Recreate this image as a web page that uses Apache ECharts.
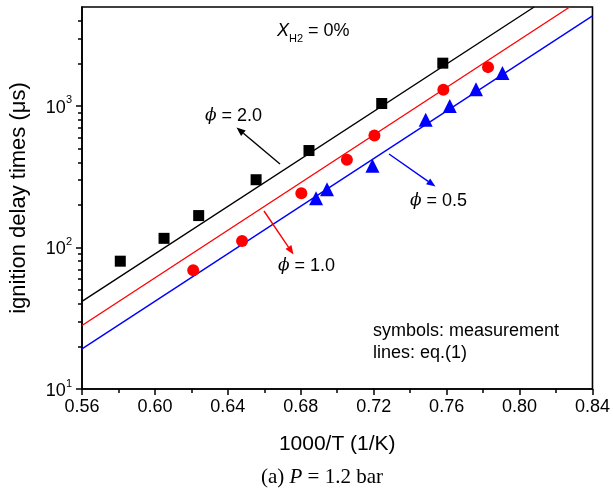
<!DOCTYPE html>
<html>
<head>
<meta charset="utf-8">
<script src="https://cdn.jsdelivr.net/npm/echarts@6/dist/echarts.min.js"></script>
<style>html,body{margin:0;padding:0;background:#fff;}#c{width:613px;height:490px;}</style>
</head>
<body>
<div id="c"></div>
<script>
// ---- data ----
const xTickLabels = ['0.56','0.60','0.64','0.68','0.72','0.76','0.80','0.84'];
const yTickValues = [10, 100, 1000];
const yTickExps = [1, 2, 3];

// measurements
const phi20X = [0.581, 0.605, 0.624, 0.6555, 0.6845, 0.7244, 0.7579];
const phi20Y = [80, 116, 168, 301, 484, 1040, 2005];
const phi10X = [0.621, 0.6478, 0.6803, 0.7053, 0.7204, 0.7582, 0.7827];
const phi10Y = [69, 111, 242, 416, 617, 1300, 1880];
const phi05X = [0.6884, 0.6944, 0.7193, 0.7485, 0.7617, 0.7761, 0.7906];
const phi05Y = [223, 258, 378, 798, 1000, 1314, 1707];

// eq.(1) lines (end points)
const fit20X = [0.56, 0.808];
const fit20Y = [41.6, 5000];
const fit10X = [0.56, 0.8275];
const fit10Y = [28.1, 5000];
const fit05X = [0.56, 0.84];
const fit05Y = [19.2, 4330];

function zip(xs, ys) { return xs.map((x, i) => [x, ys[i]]); }

const chart = echarts.init(document.getElementById('c'), null, {renderer: 'canvas'});

function arrow(x1, y1, x2, y2, color) {
  const dx = x2 - x1, dy = y2 - y1;
  const L = Math.sqrt(dx * dx + dy * dy);
  const ux = dx / L, uy = dy / L;
  const hl = 9, hw = 3.6;
  const bx = x2 - ux * hl, by = y2 - uy * hl;
  return [
    {type: 'line', shape: {x1: x1, y1: y1, x2: bx, y2: by}, style: {stroke: color, lineWidth: 1.4}, z: 100},
    {type: 'polygon', shape: {points: [[x2, y2], [bx - uy * hw, by + ux * hw], [bx + uy * hw, by - ux * hw]]},
     style: {fill: color}, z: 100}
  ];
}

const font = 'Liberation Sans, Arial, sans-serif';
const phiRich = {
  p: {fontFamily: 'DejaVu Serif', fontStyle: 'italic', fontSize: 17, fill: '#000'},
  t: {fontFamily: font, fontSize: 18, fill: '#000'}
};

const graphics = [].concat(
  arrow(280, 164, 236.5, 127.5, '#000'),
  arrow(264, 211, 293.5, 254.5, '#ff0000'),
  arrow(389, 154, 435.5, 186.5, '#0000ff'),
  [
    {type: 'text', x: 205, y: 116, z: 100,
     style: {text: '{p|ϕ}{t| = 2.0}', rich: phiRich, textVerticalAlign: 'middle', textAlign: 'left'}},
    {type: 'text', x: 278, y: 266, z: 100,
     style: {text: '{p|ϕ}{t| = 1.0}', rich: phiRich, textVerticalAlign: 'middle', textAlign: 'left'}},
    {type: 'text', x: 410, y: 201, z: 100,
     style: {text: '{p|ϕ}{t| = 0.5}', rich: phiRich, textVerticalAlign: 'middle', textAlign: 'left'}},
    {type: 'text', x: 277, y: 33, z: 100,
     style: {text: '{x|X}{s|H2}{t| = 0%}', textVerticalAlign: 'middle', textAlign: 'left',
       rich: {
         x: {fontFamily: font, fontStyle: 'italic', fontSize: 18, fill: '#000', verticalAlign: 'top', lineHeight: 22},
         s: {fontFamily: font, fontSize: 11, fill: '#000', verticalAlign: 'bottom', lineHeight: 22, padding: [8, 0, 0, 0]},
         t: {fontFamily: font, fontSize: 18, fill: '#000', verticalAlign: 'top', lineHeight: 22}
       }}},
    {type: 'text', x: 373, y: 331, z: 100,
     style: {text: 'symbols: measurement', font: '18px ' + font, fill: '#000', textVerticalAlign: 'middle'}},
    {type: 'text', x: 373, y: 353, z: 100,
     style: {text: 'lines: eq.(1)', font: '18px ' + font, fill: '#000', textVerticalAlign: 'middle'}},
    {type: 'text', x: 322, y: 477, z: 100,
     style: {text: '{a|(a) }{b|P}{a| = 1.2 bar}', textAlign: 'center', textVerticalAlign: 'middle',
       rich: {
         a: {fontFamily: 'Liberation Serif, Times New Roman, serif', fontSize: 21, fill: '#000'},
         b: {fontFamily: 'Liberation Serif, Times New Roman, serif', fontStyle: 'italic', fontSize: 21, fill: '#000'}
       }}}
  ]
);

const option = {
  backgroundColor: '#fff',
  animation: false,
  grid: {left: 81, right: 17, top: 7, bottom: 101, show: true, borderColor: '#000', borderWidth: 1.6, backgroundColor: 'transparent'},
  xAxis: [{
    type: 'value', min: 0.56, max: 0.84, interval: 0.04, position: 'bottom',
    name: '1000/T (1/K)', nameLocation: 'middle', nameGap: 45,
    nameTextStyle: {fontFamily: font, fontSize: 21, color: '#000'},
    axisLine: {show: true, lineStyle: {color: '#000', width: 1.6}},
    axisTick: {show: true, inside: false, length: 6, lineStyle: {color: '#000', width: 1.5}},
    minorTick: {show: true, splitNumber: 2, length: 4, lineStyle: {color: '#000', width: 1.5}},
    axisLabel: {margin: 9, fontFamily: font, fontSize: 18, color: '#000',
      formatter: (v) => xTickLabels[Math.round((v - 0.56) / 0.04)] || ''},
    splitLine: {show: false}
  }],
  yAxis: [{
    type: 'log', logBase: 10, min: 10, max: 5000, position: 'left',
    name: 'ignition delay times (μs)', nameLocation: 'middle', nameGap: 52,
    nameTextStyle: {fontFamily: font, fontSize: 22, color: '#000'},
    axisLine: {show: true, lineStyle: {color: '#000', width: 1.6}},
    axisTick: {show: true, inside: false, length: 6, customValues: yTickValues, lineStyle: {color: '#000', width: 1.5}},
    minorTick: {show: true, splitNumber: 9, length: 4, lineStyle: {color: '#000', width: 1.5}},
    axisLabel: {margin: 10, color: '#000', customValues: yTickValues,
      formatter: (v) => {
        const e = Math.round(Math.log10(v));
        return yTickExps.indexOf(e) >= 0 ? '{b|10}{s|' + e + '}' : '';
      },
      rich: {
        b: {fontFamily: font, fontSize: 18, color: '#000', verticalAlign: 'bottom', lineHeight: 22},
        s: {fontFamily: font, fontSize: 11, color: '#000', verticalAlign: 'top', lineHeight: 22, padding: [0, 0, 8, 0]}
      }},
    splitLine: {show: false},
    minorSplitLine: {show: false}
  }],
  series: [
    {type: 'line', name: 'fit2.0', data: zip(fit20X, fit20Y), showSymbol: false, symbol: 'none',
     lineStyle: {color: '#000', width: 1.4}, clip: true, z: 2},
    {type: 'line', name: 'fit1.0', data: zip(fit10X, fit10Y), showSymbol: false, symbol: 'none',
     lineStyle: {color: '#ff0000', width: 1.4}, clip: true, z: 2},
    {type: 'line', name: 'fit0.5', data: zip(fit05X, fit05Y), showSymbol: false, symbol: 'none',
     lineStyle: {color: '#0000ff', width: 1.4}, clip: true, z: 2},
    {type: 'scatter', name: 'phi2.0', data: zip(phi20X, phi20Y), symbol: 'rect', symbolSize: 11,
     itemStyle: {color: '#000', opacity: 1}, z: 3},
    {type: 'scatter', name: 'phi1.0', data: zip(phi10X, phi10Y), symbol: 'circle', symbolSize: 12,
     itemStyle: {color: '#ff0000', opacity: 1}, z: 3},
    {type: 'scatter', name: 'phi0.5', data: zip(phi05X, phi05Y), symbol: 'triangle', symbolSize: 14,
     itemStyle: {color: '#0000ff', opacity: 1}, z: 3}
  ],
  graphic: graphics
};
chart.setOption(option);
</script>
</body>
</html>
